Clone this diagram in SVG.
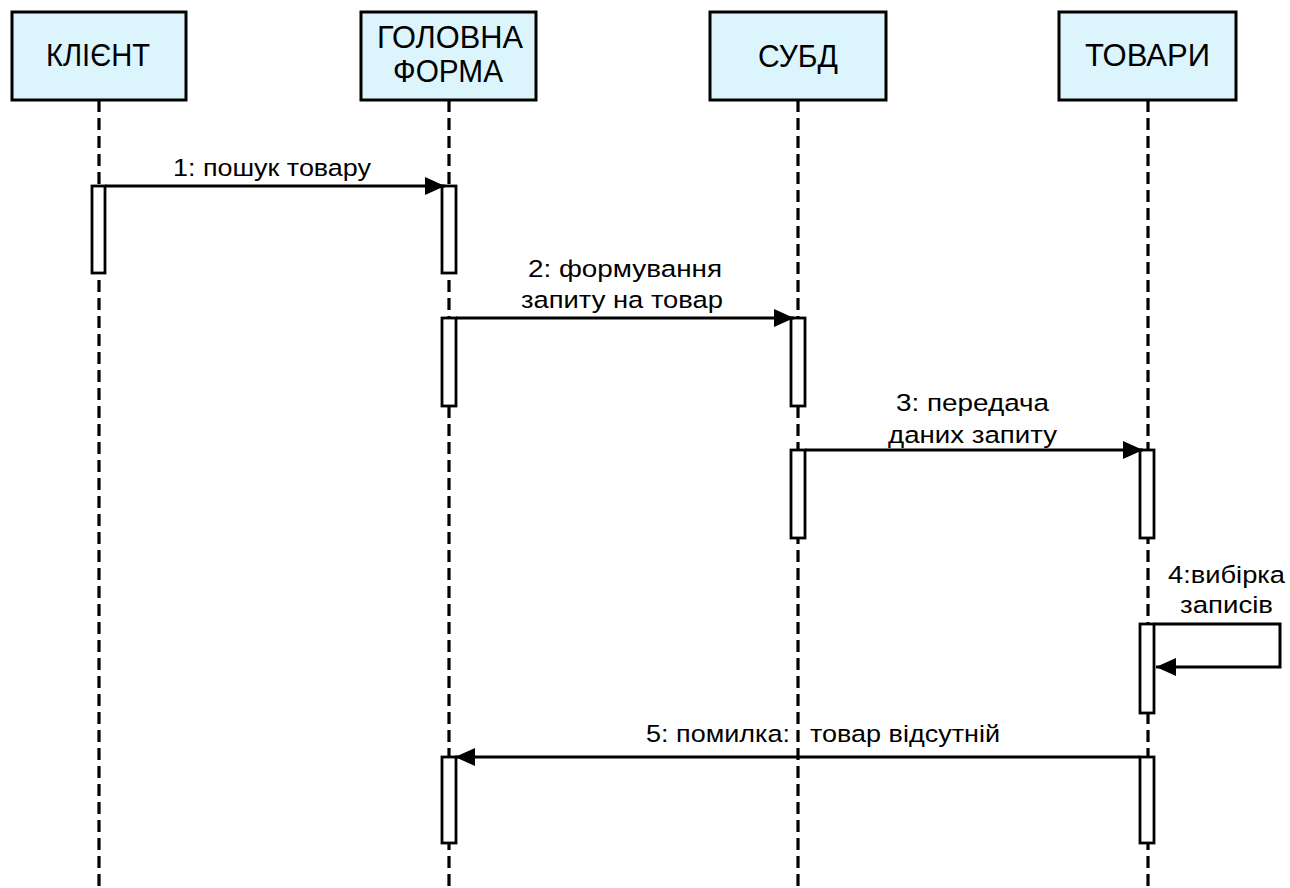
<svg xmlns="http://www.w3.org/2000/svg" width="1290" height="888" viewBox="0 0 1290 888">
  <style>
    .obj { fill: #dcf5fd; stroke: #000; stroke-width: 3; }
    .life { stroke: #000; stroke-width: 3.2; stroke-dasharray: 12 6; fill: none; }
    .act { fill: #fff; stroke: #000; stroke-width: 2.8; }
    .msg { stroke: #000; stroke-width: 3; fill: none; marker-end: url(#arrow); }
    .title { font-family: "Liberation Sans", Arial, sans-serif; font-size: 31px; fill: #000; }
    .lbl { font-family: "Liberation Sans", Arial, sans-serif; font-size: 24.5px; fill: #000; }
  </style>
  <defs>
    <marker id="arrow" markerUnits="userSpaceOnUse" markerWidth="22" markerHeight="20" refX="20" refY="9" orient="auto">
      <path d="M0,0 L20,9 L0,18 Z" fill="#000"/>
    </marker>
  </defs>
  <rect width="1290" height="888" fill="#fff"/>

  <!-- lifelines -->
  <g id="lifelines">
    <line class="life" x1="99" y1="100" x2="99" y2="888"/>
    <line class="life" x1="449" y1="100" x2="449" y2="888"/>
    <line class="life" x1="798" y1="100" x2="798" y2="888"/>
    <line class="life" x1="1148" y1="100" x2="1148" y2="888"/>
  </g>

  <!-- participants -->
  <g id="client">
    <rect class="obj" x="12" y="12" width="174" height="88"/>
    <text class="title" x="46" y="66" textLength="104" lengthAdjust="spacingAndGlyphs">КЛІЄНТ</text>
    <rect class="act" x="92" y="186" width="13" height="87"/>
  </g>
  <g id="main-form">
    <rect class="obj" x="361" y="12" width="175" height="88"/>
    <text class="title" x="377" y="48" textLength="146" lengthAdjust="spacingAndGlyphs">ГОЛОВНА</text>
    <text class="title" x="393" y="82" textLength="110" lengthAdjust="spacingAndGlyphs">ФОРМА</text>
    <rect class="act" x="442" y="186" width="14" height="87"/>
    <rect class="act" x="442" y="318" width="14" height="88"/>
    <rect class="act" x="442" y="757" width="14" height="86"/>
  </g>
  <g id="dbms">
    <rect class="obj" x="710" y="12" width="176" height="88"/>
    <text class="title" x="758" y="67" textLength="80" lengthAdjust="spacingAndGlyphs">СУБД</text>
    <rect class="act" x="791" y="318" width="14" height="88"/>
    <rect class="act" x="791" y="450" width="14" height="88"/>
  </g>
  <g id="goods">
    <rect class="obj" x="1059" y="12" width="177" height="88"/>
    <text class="title" x="1085" y="66" textLength="125" lengthAdjust="spacingAndGlyphs">ТОВАРИ</text>
    <rect class="act" x="1140" y="450" width="14" height="88"/>
    <rect class="act" x="1140" y="624" width="14" height="89"/>
    <rect class="act" x="1140" y="757" width="14" height="86"/>
  </g>

  <!-- messages -->
  <g id="connectors">
    <line class="msg" x1="105" y1="186" x2="445" y2="186"/>
    <line class="msg" x1="456" y1="318" x2="794" y2="318"/>
    <line class="msg" x1="805" y1="450" x2="1143" y2="450"/>
    <polyline class="msg" points="1154,624 1280,624 1280,667 1156,667"/>
    <line class="msg" x1="1140" y1="757" x2="455" y2="757"/>
  </g>

  <!-- message labels -->
  <g id="labels">
    <text class="lbl" x="173" y="176" textLength="198" lengthAdjust="spacingAndGlyphs">1: пошук товару</text>
    <text class="lbl" x="528" y="277" textLength="194" lengthAdjust="spacingAndGlyphs">2: формування</text>
    <text class="lbl" x="521" y="308" textLength="202" lengthAdjust="spacingAndGlyphs">запиту на товар</text>
    <text class="lbl" x="896" y="411" textLength="153" lengthAdjust="spacingAndGlyphs">3: передача</text>
    <text class="lbl" x="888" y="443" textLength="169" lengthAdjust="spacingAndGlyphs">даних запиту</text>
    <text class="lbl" x="1168" y="583" textLength="117" lengthAdjust="spacingAndGlyphs">4:вибірка</text>
    <text class="lbl" x="1180" y="613" textLength="93" lengthAdjust="spacingAndGlyphs">записів</text>
    <text class="lbl" x="646" y="742" textLength="144" lengthAdjust="spacingAndGlyphs">5: помилка:</text>
    <text class="lbl" x="810" y="742" textLength="190" lengthAdjust="spacingAndGlyphs">товар відсутній</text>
  </g>
</svg>
